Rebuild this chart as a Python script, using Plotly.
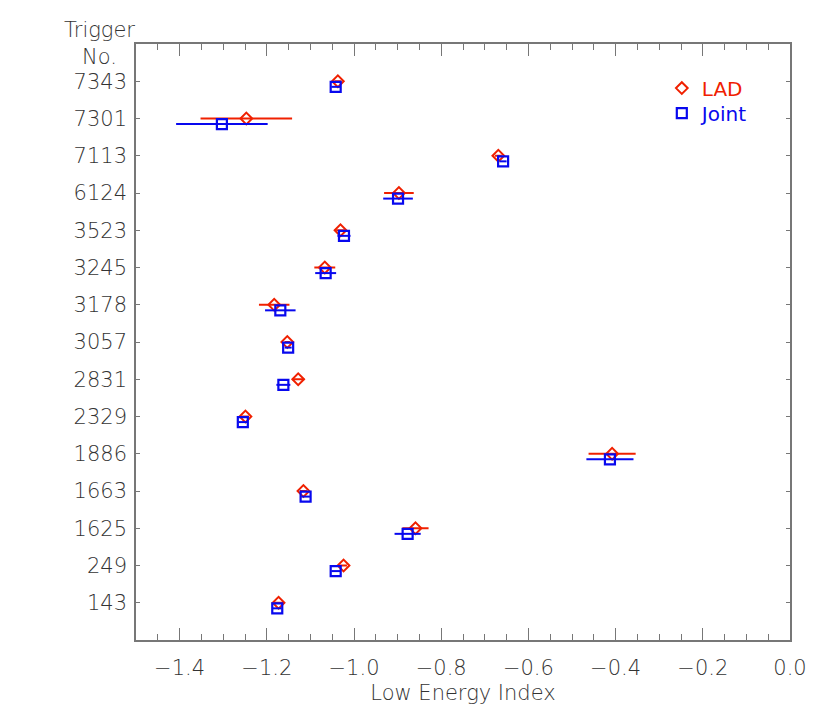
import plotly.graph_objects as go

# trigger numbers, top to bottom as in the chart
triggers = ["7343", "7301", "7113", "6124", "3523", "3245", "3178", "3057",
            "2831", "2329", "1886", "1663", "1625", "249", "143"]

lad_index = [-1.037, -1.247, -0.669, -0.897, -1.031, -1.067, -1.183, -1.153,
             -1.128, -1.249, -0.408, -1.116, -0.859, -1.024, -1.173]
lad_err = [0.008, 0.105, 0.008, 0.034, 0.010, 0.024, 0.035, 0.006,
           0.014, 0.008, 0.054, 0.008, 0.030, 0.008, 0.010]

joint_index = [-1.042, -1.303, -0.658, -0.899, -1.023, -1.065, -1.169, -1.151,
               -1.162, -1.255, -0.413, -1.111, -0.877, -1.042, -1.176]
joint_err = [0.010, 0.105, 0.008, 0.034, 0.015, 0.024, 0.035, 0.008,
             0.016, 0.010, 0.054, 0.010, 0.030, 0.010, 0.010]

x_ticks = [-1.4, -1.2, -1.0, -0.8, -0.6, -0.4, -0.2, 0.0]

RED = "#f02000"
BLUE = "#0808ee"
TXT = "#333333"
AX = "#777777"
FONT = "DejaVu Sans"

n = len(triggers)
pos = [n - 1 - i for i in range(n)]          # 143 at 0, 7343 at top
pos_joint = [p - 0.15 for p in pos]

fig = go.Figure()
fig.add_trace(go.Scatter(
    x=lad_index, y=pos, mode="markers", name="LAD", legend="legend",
    marker=dict(symbol="diamond-open", size=9, color=RED, line=dict(width=2, color=RED)),
    error_x=dict(type="data", array=lad_err, color=RED, thickness=2, width=0),
))
fig.add_trace(go.Scatter(
    x=joint_index, y=pos_joint, mode="markers", name="Joint", legend="legend2",
    marker=dict(symbol="square-open", size=10, color=BLUE, line=dict(width=2.2, color=BLUE)),
    error_x=dict(type="data", array=joint_err, color=BLUE, thickness=2, width=0),
))

# page body has an 8px margin, so the figure is a bit smaller than the window
fig.update_layout(
    width=822, height=719,
    margin=dict(l=128, r=40, t=36, b=87),
    paper_bgcolor="white", plot_bgcolor="white",
    showlegend=True,
    font=dict(family=FONT, size=21, color=TXT, weight=200),
    legend=dict(x=0.804, y=0.926, xanchor="left", yanchor="middle",
                bgcolor="rgba(0,0,0,0)", itemwidth=30,
                font=dict(family=FONT, size=20, color=RED, weight=400)),
    legend2=dict(x=0.804, y=0.884, xanchor="left", yanchor="middle",
                 bgcolor="rgba(0,0,0,0)", itemwidth=30,
                 font=dict(family=FONT, size=20, color=BLUE, weight=400)),
    annotations=[dict(
        text="Trigger<br>No.", xref="paper", yref="paper", x=0, y=1.0,
        xanchor="right", yanchor="middle", xshift=1, yshift=1, showarrow=False,
        align="center", font=dict(family=FONT, size=21, color=TXT, weight=200),
    )],
)

fig.update_xaxes(
    range=[-1.5, 0.0], tickvals=x_ticks, tickformat=".1f",
    ticks="inside", ticklen=12, tickwidth=1, tickcolor=AX,
    minor=dict(dtick=0.05, ticks="inside", ticklen=6, tickcolor=AX, tickwidth=1, showgrid=False),
    showline=True, linecolor=AX, linewidth=1.5, mirror="ticks",
    showgrid=False, zeroline=False, automargin=False, ticklabelstandoff=8,
    title=dict(text="Low Energy Index", standoff=6, font=dict(size=21)),
)
fig.update_yaxes(
    range=[-1, 15], tickvals=pos, ticktext=triggers,
    ticks="inside", ticklen=4, tickwidth=1, tickcolor=AX,
    showline=True, linecolor=AX, linewidth=1.5, mirror="ticks",
    showgrid=False, zeroline=False, automargin=False, ticklabelstandoff=3,
)

fig.write_html("out.html")
